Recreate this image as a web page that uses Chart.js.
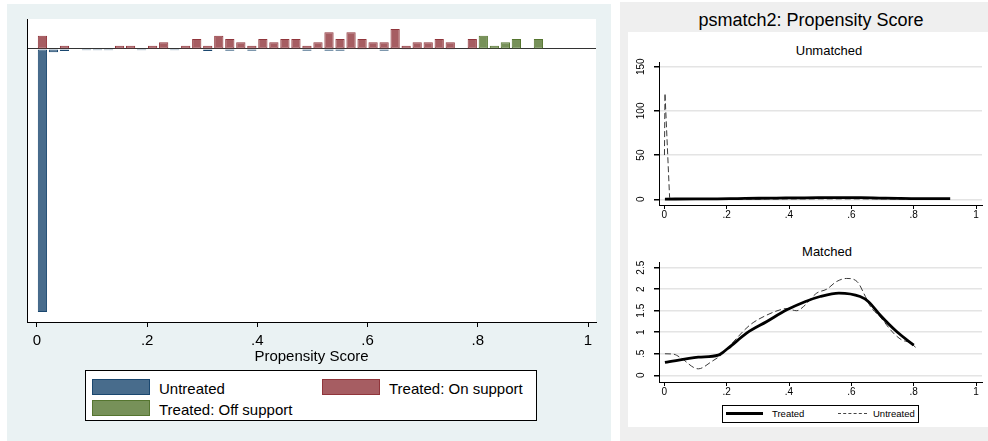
<!DOCTYPE html>
<html>
<head>
<meta charset="utf-8">
<script src="https://cdn.jsdelivr.net/npm/chart.js@4.4.1/dist/chart.umd.min.js"></script>
<style>
  html, body { margin: 0; padding: 0; width: 988px; height: 441px; overflow: hidden; background: #ffffff;
    font-family: "Liberation Sans", Arial, Helvetica, sans-serif; }
  .abs { position: absolute; }
  #leftPanel { left: 7px; top: 4px; width: 604px; height: 437px; background: #eaf2f3; }
  #rightPanel { left: 620px; top: 2px; width: 368px; height: 439px; background: #efefef; }
  #rightWhite { left: 628px; top: 32px; width: 360px; height: 395px; background: #ffffff; }
  .txt { white-space: nowrap; color: #000; line-height: 1; }
  .leg { background: #fff; border: 1px solid #000; box-sizing: border-box; }
  .sw { box-sizing: border-box; border: 1px solid; }
</style>
</head>
<body>
<div id="leftPanel" class="abs"></div>
<canvas id="leftChart" class="abs" width="603" height="437" style="left:7px;top:4px;"></canvas>

<div id="leftLegend" class="abs leg" style="left:85px;top:370px;width:452px;height:51px;"></div>
<div class="abs sw" style="left:92px;top:379px;width:58px;height:16px;background:rgb(72,108,140);border-color:rgb(26,71,111);"></div>
<div class="abs txt" style="left:159px;top:381px;font-size:15px;">Untreated</div>
<div class="abs sw" style="left:322px;top:379px;width:58px;height:16px;background:rgb(166,93,98);border-color:rgb(144,53,59);"></div>
<div class="abs txt" style="left:389px;top:381px;font-size:15px;">Treated: On support</div>
<div class="abs sw" style="left:92px;top:400px;width:58px;height:16px;background:rgb(119,145,89);border-color:rgb(85,117,47);"></div>
<div class="abs txt" style="left:159px;top:402px;font-size:15px;">Treated: Off support</div>

<div id="rightPanel" class="abs"></div>
<div id="rightWhite" class="abs"></div>
<div class="abs txt" style="left:611px;width:400px;text-align:center;top:11px;font-size:18px;">psmatch2: Propensity Score</div>
<div class="abs txt" style="left:779px;width:100px;text-align:center;top:44px;font-size:13px;">Unmatched</div>
<div class="abs txt" style="left:777px;width:100px;text-align:center;top:245px;font-size:13px;">Matched</div>

<canvas id="unmatchedChart" class="abs" width="360" height="195" style="left:628px;top:33px;"></canvas>
<canvas id="matchedChart" class="abs" width="360" height="172" style="left:628px;top:232px;"></canvas>

<div class="abs leg" style="left:722px;top:405px;width:197px;height:18px;"></div>
<div class="abs" style="left:726px;top:412px;width:37px;height:0;border-top:3px solid #000;"></div>
<div class="abs txt" style="left:772px;top:409px;font-size:9.5px;">Treated</div>
<div class="abs" style="left:838px;top:413px;width:29px;height:0;border-top:1px dashed #444;"></div>
<div class="abs txt" style="left:873px;top:409px;font-size:9.5px;">Untreated</div>

<script>
// ---------------- DATA ----------------
// Left panel: histogram of propensity score (bin centres, frequencies)
const binCenters = [0.01,0.03,0.05,0.07,0.09,0.11,0.13,0.15,0.17,0.19,
                    0.21,0.23,0.25,0.27,0.29,0.31,0.33,0.35,0.37,0.39,
                    0.41,0.43,0.45,0.47,0.49,0.51,0.53,0.55,0.57,0.59,
                    0.61,0.63,0.65,0.67,0.69,0.71,0.73,0.75,0.77,0.79,
                    0.81,0.83,0.85,0.87,0.89,0.91];
const untreatedFreq = [79,1,0.6,0,0.35,0.35,0.35,0,0,0.35,
                       0,0,0.35,0,0,0.6,0,0.5,0,0.5,
                       0,0,0,0,0.5,0,0.5,0.5,0,0.2,
                       0,0.5,0,0.2,0,0,0,0.2,0,0,
                       0,0,0,0,0,0];
const treatedOnFreq = [4,0,1,0,0,0,0,1,1,0,
                       1,2,0,1,3,1,4,3,2,1,
                       3,2,3,3,1,2,5,3,5,3,
                       2,2,6,1,2,2,3,2,0,3,
                       0,0,0,0,0,0];
const treatedOffFreq = [0,0,0,0,0,0,0,0,0,0,
                        0,0,0,0,0,0,0,0,0,0,
                        0,0,0,0,0,0,0,0,0,0,
                        0,0,0,0,0,0,0,0,0,0,
                        4,1,2,3,0,3];
const leftTickValues = [0, 0.2, 0.4, 0.6, 0.8, 1];
const leftTickLabels = ['0', '.2', '.4', '.6', '.8', '1'];

// Right panel: kernel densities
const unmatchedTreatedX   = [0.002,0.1,0.17,0.21,0.26,0.33,0.39,0.45,0.5,0.56,0.63,0.69,0.75,0.8,0.86,0.917];
const unmatchedTreatedY   = [0.3,0.4,0.5,0.65,1.0,1.25,1.5,1.7,1.8,1.9,1.8,1.4,1.0,0.8,0.8,0.7];
const unmatchedUntreatedX = [0.0005,0.0022,0.017,0.022,0.05,0.1,0.2,0.3,0.4,0.5,0.6,0.7,0.8,0.85];
const unmatchedUntreatedY = [50,120,2,0.4,0.2,0.1,0.15,0.3,0.4,0.5,0.5,0.4,0.2,0.1];

const matchedTreatedX   = [0.002,0.109,0.173,0.205,0.264,0.329,0.393,0.451,0.5,0.56,0.628,0.655,0.692,0.746,0.80];
const matchedTreatedY   = [0.30,0.42,0.47,0.63,0.98,1.25,1.52,1.71,1.83,1.91,1.83,1.71,1.40,1.01,0.70];
const matchedUntreatedX = [0.002,0.03,0.05,0.109,0.152,0.189,0.227,0.275,0.329,0.371,0.39,0.425,0.447,0.489,0.521,0.553,0.585,0.618,0.645,0.661,0.692,0.735,0.762,0.788,0.806];
const matchedUntreatedY = [0.50,0.49,0.42,0.15,0.32,0.51,0.82,1.17,1.40,1.52,1.55,1.50,1.60,1.91,2.00,2.18,2.25,2.18,1.83,1.60,1.36,0.98,0.82,0.76,0.65];

const rightXTickValues = [0, 0.2, 0.4, 0.6, 0.8, 1];
const rightXTickLabels = ['0', '.2', '.4', '.6', '.8', '1'];
const unmatchedYTickValues = [0, 50, 100, 150];
const unmatchedYTickLabels = ['0', '50', '100', '150'];
const matchedYTickValues = [0, 0.5, 1, 1.5, 2, 2.5];
const matchedYTickLabels = ['0', '.5', '1', '1.5', '2', '2.5'];

// ---------------- HELPERS ----------------
const FONT = '"Liberation Sans", Arial, Helvetica, sans-serif';
Chart.defaults.font.family = FONT;
Chart.defaults.color = '#000';

const plotBg = {
  id: 'plotBg',
  beforeDraw(chart, args, opts) {
    if (!opts || !opts.color) return;
    const { ctx, chartArea: c } = chart;
    ctx.save();
    ctx.fillStyle = opts.color;
    ctx.fillRect(c.left, c.top, c.right - c.left, c.bottom - c.top);
    ctx.restore();
  }
};

const rotTicks = {
  id: 'rotTicks',
  afterDraw(chart, args, opts) {
    if (!opts || !opts.values) return;
    const ctx = chart.ctx, ys = chart.scales.y;
    ctx.save();
    ctx.font = opts.size + 'px ' + FONT;
    ctx.fillStyle = '#000';
    ctx.textAlign = 'center';
    ctx.textBaseline = 'middle';
    opts.values.forEach((v, i) => {
      const py = ys.getPixelForValue(v);
      ctx.save();
      ctx.translate(chart.chartArea.left - opts.offset, py);
      ctx.rotate(-Math.PI / 2);
      ctx.fillText(opts.labels[i], 0, 0);
      ctx.restore();
    });
    ctx.restore();
  }
};

function pairs(xs, ys) { return xs.map((x, i) => ({ x: x, y: ys[i] })); }
function barData(vals, sign) {
  return binCenters.map((x, i) => ({ x: x, y: vals[i] ? sign * vals[i] : null }));
}

// ---------------- LEFT CHART ----------------
const barCommon = { grouped: false, barPercentage: 0.84, categoryPercentage: 1, borderWidth: 1, borderSkipped: false };
new Chart(document.getElementById('leftChart'), {
  type: 'bar',
  data: {
    datasets: [
      Object.assign({ label: 'Untreated', data: barData(untreatedFreq, -1),
        backgroundColor: 'rgb(72,108,140)', borderColor: 'rgb(26,71,111)' }, barCommon),
      Object.assign({ label: 'Treated: On support', data: barData(treatedOnFreq, 1),
        backgroundColor: 'rgb(166,93,98)', borderColor: 'rgb(144,53,59)' }, barCommon),
      Object.assign({ label: 'Treated: Off support', data: barData(treatedOffFreq, 1),
        backgroundColor: 'rgb(119,145,89)', borderColor: 'rgb(85,117,47)' }, barCommon)
    ]
  },
  options: {
    responsive: false, animation: false, devicePixelRatio: 1,
    layout: { padding: { left: 20, top: 15, right: 14, bottom: 74 } },
    plugins: { legend: { display: false }, tooltip: { enabled: false }, plotBg: { color: '#ffffff' } },
    scales: {
      x: {
        type: 'linear', min: -0.018, max: 1.0145, offset: false,
        afterBuildTicks: s => { s.ticks = leftTickValues.map(v => ({ value: v })); },
        afterFit: s => { s.height = 45; },
        ticks: { autoSkip: false, maxRotation: 0, minRotation: 0, padding: 5,
          font: { size: 15, lineHeight: 1.2 }, color: '#000',
          callback: (v, i) => leftTickLabels[i] },
        grid: { offset: false, drawOnChartArea: false, drawTicks: true, tickLength: 5, color: '#000', lineWidth: 1 },
        border: { display: true, color: '#000', width: 1 },
        title: { display: true, text: 'Propensity Score', font: { size: 15, lineHeight: 1.2 }, color: '#000',
          padding: { top: 0, bottom: 1.5 } }
      },
      y: {
        type: 'linear', min: -82, max: 9, z: 1,
        afterBuildTicks: s => { s.ticks = [{ value: 0 }]; },
        afterFit: s => { s.width = 0; },
        ticks: { display: false },
        grid: { drawTicks: false, color: '#333', lineWidth: 1 },
        border: { display: true, color: '#000', width: 1 }
      }
    }
  },
  plugins: [plotBg]
});

// ---------------- RIGHT CHARTS ----------------
function rightXScale() {
  return {
    type: 'linear', min: -0.017, max: 1.019, offset: false,
    afterBuildTicks: s => { s.ticks = rightXTickValues.map(v => ({ value: v })); },
    afterFit: s => { s.height = 22; },
    ticks: { autoSkip: false, maxRotation: 0, minRotation: 0, padding: 0,
      font: { size: 10, lineHeight: 1.2 }, color: '#000',
      callback: (v, i) => rightXTickLabels[i] },
    grid: { drawOnChartArea: false, drawTicks: true, tickLength: 4, color: '#000', lineWidth: 1 },
    border: { display: true, color: '#000', width: 1 }
  };
}
function rightYScale(min, max, vals) {
  return {
    type: 'linear', min: min, max: max,
    afterBuildTicks: s => { s.ticks = vals.map(v => ({ value: v })); },
    afterFit: s => { s.width = 0; },
    ticks: { display: false },
    grid: { drawTicks: true, tickLength: 5, color: '#e4e4e4', tickColor: '#000', lineWidth: 1.5 },
    border: { display: true, color: '#000', width: 1 }
  };
}
const solidLine = { borderColor: '#000', borderWidth: 2.8, pointRadius: 0, fill: false };
const dashLine = { borderColor: '#3a3a3a', borderWidth: 1, borderDash: [6, 3], pointRadius: 0, fill: false };

new Chart(document.getElementById('unmatchedChart'), {
  type: 'line',
  data: {
    datasets: [
      Object.assign({ label: 'Treated', data: pairs(unmatchedTreatedX, unmatchedTreatedY), cubicInterpolationMode: 'monotone' }, solidLine),
      Object.assign({ label: 'Untreated', data: pairs(unmatchedUntreatedX, unmatchedUntreatedY), tension: 0 }, dashLine)
    ]
  },
  options: {
    responsive: false, animation: false, devicePixelRatio: 1,
    layout: { padding: { left: 31, top: 29, right: 6, bottom: 1 } },
    plugins: { legend: { display: false }, tooltip: { enabled: false },
      rotTicks: { values: unmatchedYTickValues, labels: unmatchedYTickLabels, offset: 18, size: 10 } },
    scales: { x: rightXScale(), y: rightYScale(-6.45, 155.3, unmatchedYTickValues) }
  },
  plugins: [rotTicks]
});

new Chart(document.getElementById('matchedChart'), {
  type: 'line',
  data: {
    datasets: [
      Object.assign({ label: 'Treated', data: pairs(matchedTreatedX, matchedTreatedY), cubicInterpolationMode: 'monotone' }, solidLine),
      Object.assign({ label: 'Untreated', data: pairs(matchedUntreatedX, matchedUntreatedY), cubicInterpolationMode: 'monotone' }, dashLine)
    ]
  },
  options: {
    responsive: false, animation: false, devicePixelRatio: 1,
    layout: { padding: { left: 31, top: 30, right: 6, bottom: 0 } },
    plugins: { legend: { display: false }, tooltip: { enabled: false },
      rotTicks: { values: matchedYTickValues, labels: matchedYTickLabels, offset: 18, size: 10 } },
    scales: { x: rightXScale(), y: rightYScale(-0.156, 2.632, matchedYTickValues) }
  },
  plugins: [rotTicks]
});
</script>
</body>
</html>
